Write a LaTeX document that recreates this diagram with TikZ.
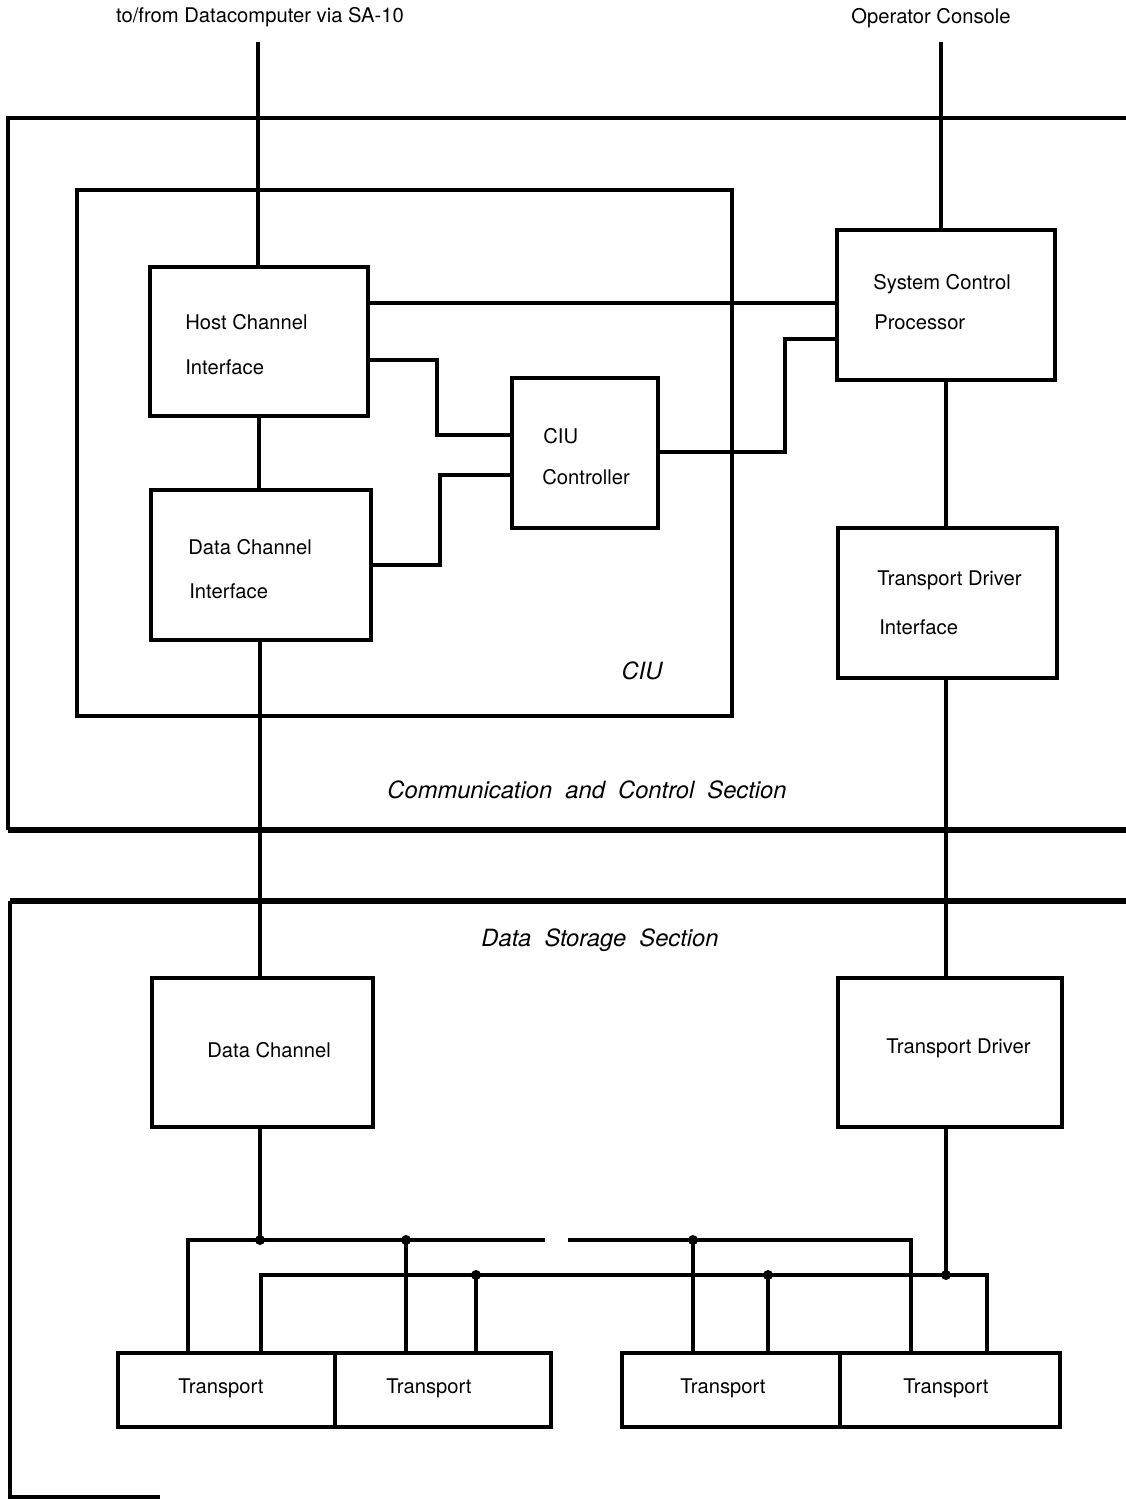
\documentclass[tikz,border=0pt]{standalone}
\usepackage{fontspec}
\setmainfont{TeX Gyre Heros}
\begin{document}
\begin{tikzpicture}[x=0.02cm,y=-0.02cm,
  box/.style={draw,line width=1.9pt,rectangle,inner sep=0pt},
  conn/.style={line width=1.8pt},
  sect/.style={line width=1.8pt},
  sectthick/.style={line width=2.9pt},
  txt/.style={font=\fontsize{11.5}{13}\selectfont,inner sep=0pt},
  ltxt/.style={txt,anchor=west},
  ital/.style={font=\fontsize{13.5}{15}\selectfont\itshape,inner sep=0pt},
  dot/.style={fill=black}]
\useasboundingbox (0,0) rectangle (1126,1499);

% top labels
\node[txt] (lblhost) at (260,17) {to/from Datacomputer via SA-10};
\node[txt] (lblop) at (931,18) {Operator Console};
\coordinate (hin) at (258,42);
\coordinate (oin) at (941,42);

% sections
\draw[sect] (1126,118) -- (8,118) -- (8,830);
\draw[sectthick] (8,830) -- (1126,830);
\draw[sectthick] (1126,901) -- (10,901);
\draw[sect] (10,901) -- (10,1497) -- (160,1497);
\node[ital] (ccs) at (587,790) {Communication \ and \ Control \ Section};
\node[ital] (dss) at (600,940) {Data \ Storage \ Section};

% CIU box
\node[box,minimum width=13.1cm,minimum height=10.52cm] (ciu) at (404.5,453) {};
\node[ital] (ciulbl) at (642,671) {CIU};

% boxes
\node[box,minimum width=4.36cm,minimum height=2.98cm] (hci) at (259,341.5) {};
\node[box,minimum width=4.40cm,minimum height=3.00cm] (dci) at (261,565) {};
\node[box,minimum width=2.92cm,minimum height=3.00cm] (ctrl) at (585,453) {};
\node[box,minimum width=4.36cm,minimum height=3.00cm] (scp) at (946,305) {};
\node[box,minimum width=4.38cm,minimum height=3.00cm] (tdi) at (947.5,603) {};
\node[box,minimum width=4.42cm,minimum height=2.98cm] (dc) at (262.5,1052.5) {};
\node[box,minimum width=4.48cm,minimum height=2.98cm] (td) at (950,1052.5) {};
\node[box,minimum width=4.34cm,minimum height=1.48cm] (t1) at (226.5,1390) {};
\node[box,minimum width=4.32cm,minimum height=1.48cm] (t2) at (443,1390) {};
\node[box,minimum width=4.36cm,minimum height=1.48cm] (t3) at (731,1390) {};
\node[box,minimum width=4.40cm,minimum height=1.48cm] (t4) at (950,1390) {};

% box texts
\node[ltxt] (hci1) at (185,322) {Host Channel};
\node[ltxt] (hci2) at (185,367) {Interface};
\node[ltxt] (dci1) at (188,547) {Data Channel};
\node[ltxt] (dci2) at (189,591) {Interface};
\node[ltxt] (ctrl1) at (543,436) {CIU};
\node[ltxt] (ctrl2) at (542,477) {Controller};
\node[ltxt] (scp1) at (873,284) {System Control};
\node[ltxt] (scp2) at (874,322) {Processor};
\node[ltxt] (tdi1) at (877,580) {Transport Driver};
\node[ltxt] (tdi2) at (879,627) {Interface};
\node[ltxt] (dc1) at (207,1050) {Data Channel};
\node[ltxt] (td1) at (886,1048) {Transport Driver};
\node[txt] (t1l) at (221,1388) {Transport};
\node[txt] (t2l) at (429,1388) {Transport};
\node[txt] (t3l) at (723,1388) {Transport};
\node[txt] (t4l) at (946,1388) {Transport};

% helper levels
\coordinate (y303) at (0,303);
\coordinate (y360) at (0,360);
\coordinate (y435) at (0,435);
\coordinate (y475) at (0,475);
\coordinate (y565) at (0,565);
\coordinate (y452) at (0,452);
\coordinate (y339) at (0,339);

% connectors
\draw[conn] (hin) -- (hin |- hci.north);
\draw[conn] (oin) -- (oin |- scp.north);
\draw[conn] (hci.south) -- (hci.south |- dci.north);
\draw[conn] (hci.east |- y303) -- (scp.west |- y303);
\draw[conn] (hci.east |- y360) -- (437,360) -- (437,435) -- (ctrl.west |- y435);
\draw[conn] (dci.east |- y565) -- (440,565) -- (440,475) -- (ctrl.west |- y475);
\draw[conn] (ctrl.east |- y452) -- (785,452) -- (785,339) -- (scp.west |- y339);
\draw[conn] (scp.south) -- (scp.south |- tdi.north);
\draw[conn] (tdi.south -| 946,0) -- (946,0 |- td.north);
\draw[conn] (dci.south -| 260,0) -- (260,0 |- dc.north);

% buses
\coordinate (d1) at (260,1240);
\coordinate (d2) at (406,1240);
\coordinate (d3) at (693,1240);
\coordinate (e1) at (476,1275);
\coordinate (e2) at (768,1275);
\coordinate (e3) at (946,1275);
\draw[conn] (dc.south -| d1) -- (d1);
\draw[conn] (td.south -| e3) -- (e3);
\draw[conn] (t1.north -| 188,0) -- (188,1240) -- (545,1240);
\draw[conn] (568,1240) -- (911,1240) -- (911,0 |- t4.north);
\draw[conn] (t1.north -| 261,0) -- (261,1275) -- (987,1275) -- (987,0 |- t4.north);
\draw[conn] (d2) -- (d2 |- t2.north);
\draw[conn] (d3) -- (d3 |- t3.north);
\draw[conn] (e1) -- (e1 |- t2.north);
\draw[conn] (e2) -- (e2 |- t3.north);
\foreach \p in {d1,d2,d3,e1,e2,e3} \fill[dot] (\p) circle[radius=0.1cm];
\end{tikzpicture}
\end{document}
